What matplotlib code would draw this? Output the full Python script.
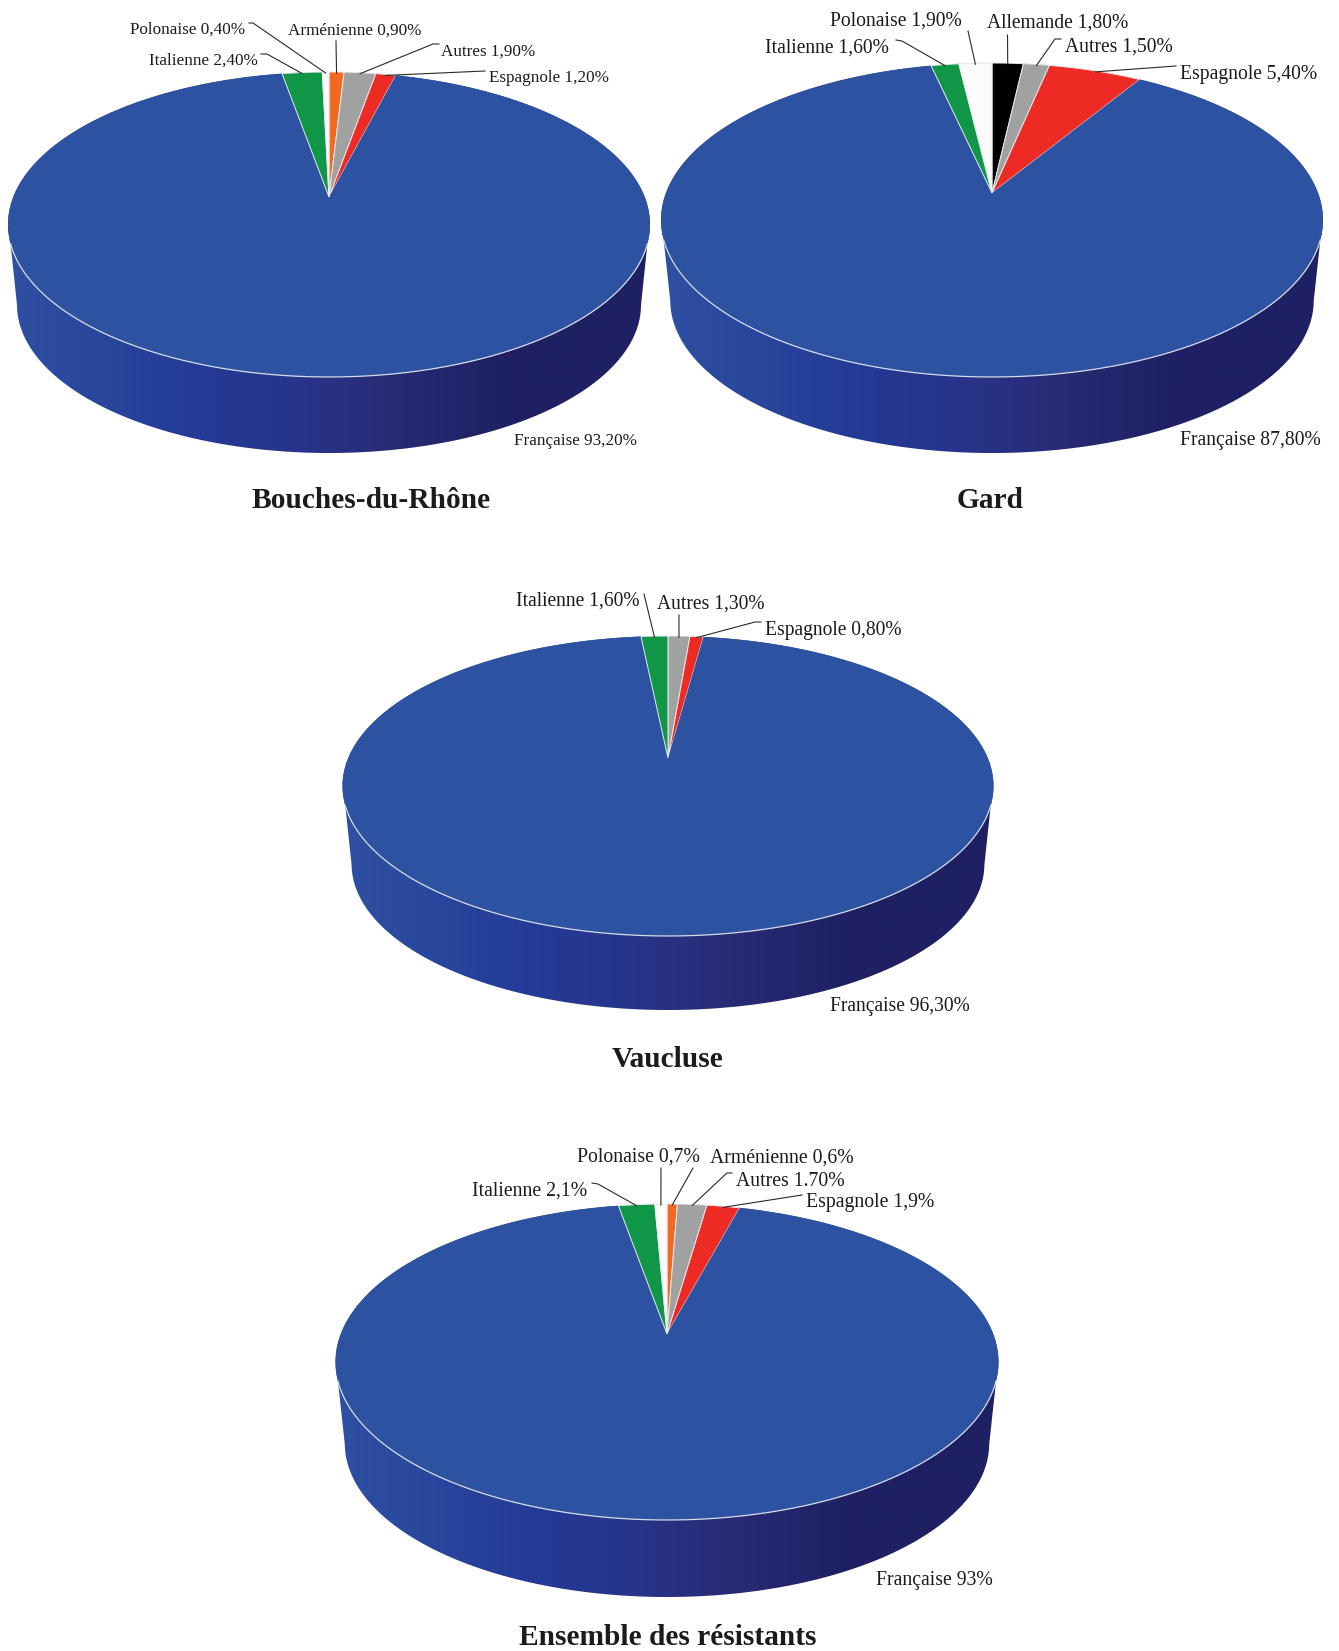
import numpy as np
import matplotlib
matplotlib.use("Agg")
import matplotlib.pyplot as plt
from matplotlib.colors import LinearSegmentedColormap
from matplotlib.patches import Polygon

# slices go clockwise from 12 o'clock, in alphabetical order
bdr_names = ["Arménienne", "Autres", "Espagnole", "Française", "Italienne", "Polonaise"]
bdr_values = [0.9, 1.9, 1.2, 93.2, 2.4, 0.4]
bdr_labels = ["Arménienne 0,90%", "Autres 1,90%", "Espagnole 1,20%", "Française 93,20%", "Italienne 2,40%", "Polonaise 0,40%"]

gard_names = ["Allemande", "Autres", "Espagnole", "Française", "Italienne", "Polonaise"]
gard_values = [1.8, 1.5, 5.4, 87.8, 1.6, 1.9]
gard_labels = ["Allemande 1,80%", "Autres 1,50%", "Espagnole 5,40%", "Française 87,80%", "Italienne 1,60%", "Polonaise 1,90%"]

vaucluse_names = ["Autres", "Espagnole", "Française", "Italienne"]
vaucluse_values = [1.3, 0.8, 96.3, 1.6]
vaucluse_labels = ["Autres 1,30%", "Espagnole 0,80%", "Française 96,30%", "Italienne 1,60%"]

total_names = ["Arménienne", "Autres", "Espagnole", "Française", "Italienne", "Polonaise"]
total_values = [0.6, 1.7, 1.9, 93, 2.1, 0.7]
total_labels = ["Arménienne 0,6%", "Autres 1.70%", "Espagnole 1,9%", "Française 93%", "Italienne 2,1%", "Polonaise 0,7%"]

COLORS = {
    "Française": "#2E52A2",
    "Italienne": "#0F9647",
    "Polonaise": "#FBFBFB",
    "Arménienne": "#F26A21",
    "Allemande": "#000000",
    "Autres": "#A0A2A1",
    "Espagnole": "#EE2A24",
}
TEXT_COLOR = "#1c1a1b"
wall_cmap = LinearSegmentedColormap.from_list(
    "wall", [(0, "#2F50A3"), (0.3, "#233A96"), (0.45, "#28348A"), (0.6, "#272B74"), (0.78, "#1E2063"), (1, "#1E2063")]
)

# layout in pixels of the final picture
# cx, apex y, rim top y, rim bottom y, half width, wall bottom y
bdr_geom = (329, 197, 72, 377, 321, 453)
gard_geom = (992, 193, 63, 377, 331, 453)
vaucluse_geom = (668, 758, 636, 936, 325.5, 1010)
total_geom = (667, 1334, 1204, 1520, 331.5, 1597)

# text: left x, centre y / leader: free end first, rim end is computed from the slice
bdr_text = [(288, 30.5), (441, 52), (489, 78), (514, 441), (149, 61), (130, 29.5)]
bdr_leaders = [
    [(336, 41)], [(439, 44), (433, 44)], [(485, 71)], None,
    [(261, 54), (267, 54)], [(249, 23), (253, 23)],
]
gard_text = [(987, 23), (1065, 47), (1180, 74), (1180, 440), (765, 48), (830, 21.5)]
gard_leaders = [
    [(1007.5, 35)], [(1061, 39), (1055, 39)], [(1176, 66)], None,
    [(896, 40), (902, 41)], [(968, 31)],
]
vaucluse_text = [(657, 604), (765, 630), (830, 1007), (516, 601.5)]
vaucluse_leaders = [
    [(679, 615)], [(761, 622), (755, 622)], None, [(644, 594)],
]
total_text = [(710, 1158.5), (736, 1182), (806, 1203), (876, 1580), (472, 1191.5), (577, 1157.5)]
total_leaders = [
    [(693, 1168)], [(732, 1173), (727, 1173)], [(802, 1195)], None,
    [(592, 1183), (598, 1184)], [(661, 1168)],
]


def rim_projection(geom):
    # perspective view of the disc, the apex is the true centre of the pie
    cx, apex_y, top_y, bot_y, half_w, _ = geom
    up = apex_y - top_y
    down = bot_y - apex_y
    k = (down - up) / (down + up)
    B = up * (1 + k)
    A = half_w * np.sqrt(1 - k ** 2)

    def project(theta):
        X, Y = np.sin(theta), np.cos(theta)
        w = 1 + k * Y
        return cx + A * X / w, apex_y - B * Y / w

    return project


def draw_pie(ax, names, values, labels, geom, text_pos, leaders, title, title_xy, fontsize):
    cx, apex_y, top_y, bot_y, half_w, wall_y = geom
    project = rim_projection(geom)

    # side wall
    t = np.linspace(0, 2 * np.pi, 721)
    rx, ry = project(t)
    mid_y = (top_y + bot_y) / 2
    b = (bot_y - top_y) / 2
    scale = 0.972
    low_x = cx + (rx - cx) * scale
    low_y = wall_y - b * scale + (ry - mid_y) * scale

    upper = ry >= mid_y + 19
    order_up = np.argsort(rx[upper])
    lower = low_y >= wall_y - b * scale
    order_low = np.argsort(low_x[lower])[::-1]
    wall_pts = np.vstack([
        np.column_stack([rx[upper][order_up], ry[upper][order_up]]),
        np.column_stack([low_x[lower][order_low], low_y[lower][order_low]]),
    ])
    wall = Polygon(wall_pts, closed=True, transform=ax.transData, facecolor="none", edgecolor="none")
    ax.add_patch(wall)
    im = ax.imshow(
        np.linspace(0, 1, 256)[None, :], extent=(cx - half_w, cx + half_w, wall_y, top_y),
        cmap=wall_cmap, aspect="auto", zorder=1,
    )
    im.set_clip_path(wall)

    # top face, one slice at a time
    ax.fill(rx, ry, color=COLORS["Française"], lw=0, zorder=2)
    edges = np.cumsum([0] + list(values)) / sum(values) * 2 * np.pi
    for i, name in enumerate(names):
        arc = np.linspace(edges[i], edges[i + 1], 200)
        ax_, ay_ = project(arc)
        xs = np.r_[cx, ax_]
        ys = np.r_[apex_y, ay_]
        edge = "#E8EAEE" if name != "Française" else "none"
        ax.fill(xs, ys, facecolor=COLORS[name], edgecolor=edge, lw=0.7, zorder=3)

    # light line where the top face meets the wall
    front = ry >= mid_y + 19
    order = np.argsort(rx[front])
    ax.plot(rx[front][order], ry[front][order], color="#D5DAE8", lw=0.9, zorder=4)

    # labels and leader lines
    for i, label in enumerate(labels):
        ax.text(text_pos[i][0], text_pos[i][1], label, family="Liberation Serif", fontsize=fontsize,
                color=TEXT_COLOR, ha="left", va="center", zorder=6)
        if leaders[i] is None:
            continue
        end = project((edges[i] + edges[i + 1]) / 2)
        pts = leaders[i] + [(end[0], end[1] + 1)]
        ax.plot([p[0] for p in pts], [p[1] for p in pts], color="#2a2a2a", lw=0.8, zorder=5)

    ax.text(title_xy[0], title_xy[1], title, family="Liberation Serif", fontweight="bold", fontsize=21.2,
            color=TEXT_COLOR, ha="center", va="center")


fig = plt.figure(figsize=(13.39, 16.51), dpi=100)
ax = fig.add_axes([0, 0, 1, 1])

draw_pie(ax, bdr_names, bdr_values, bdr_labels, bdr_geom, bdr_text, bdr_leaders,
         "Bouches-du-Rhône", (371, 500.5), 12.3)
draw_pie(ax, gard_names, gard_values, gard_labels, gard_geom, gard_text, gard_leaders,
         "Gard", (990, 500.5), 14.1)
draw_pie(ax, vaucluse_names, vaucluse_values, vaucluse_labels, vaucluse_geom, vaucluse_text, vaucluse_leaders,
         "Vaucluse", (668, 1059.5), 14.05)
draw_pie(ax, total_names, total_values, total_labels, total_geom, total_text, total_leaders,
         "Ensemble des résistants", (668, 1637.5), 14.25)

ax.set_xlim(0, 1339)
ax.set_ylim(1651, 0)
ax.axis("off")

plt.savefig("out.png", dpi=100)
